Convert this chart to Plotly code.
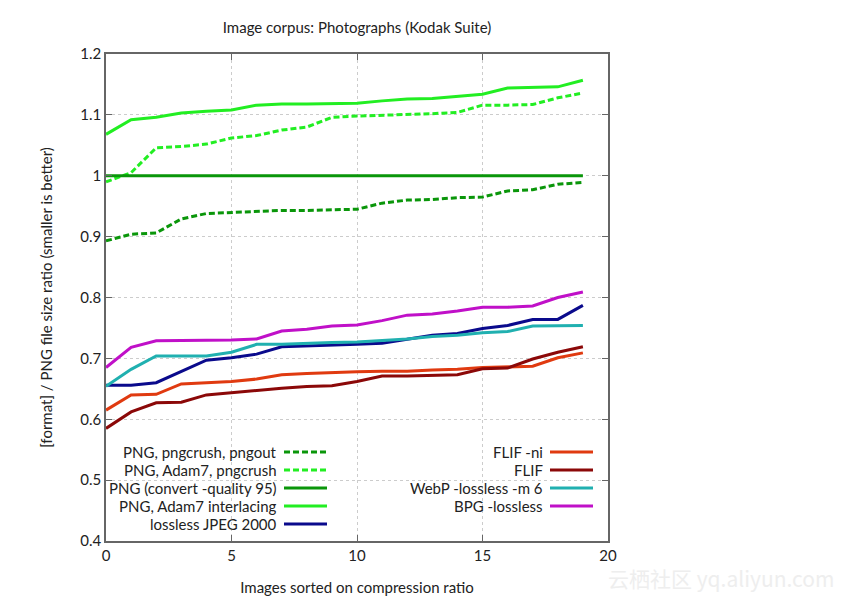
import plotly.graph_objects as go

x = list(range(20))

png_pngcrush_pngout = [0.893, 0.904, 0.906, 0.929, 0.938, 0.940, 0.941, 0.943, 0.943, 0.944, 0.945,
                       0.955, 0.960, 0.961, 0.964, 0.965, 0.975, 0.977, 0.986, 0.989]
png_adam7_pngcrush = [0.990, 1.005, 1.046, 1.048, 1.052, 1.062, 1.066, 1.075, 1.080, 1.096, 1.098,
                      1.099, 1.101, 1.102, 1.104, 1.116, 1.116, 1.117, 1.128, 1.136]
png_convert = [1.0] * 20
png_adam7 = [1.068, 1.092, 1.096, 1.103, 1.106, 1.108, 1.116, 1.118, 1.118, 1.119, 1.119,
             1.123, 1.126, 1.127, 1.130, 1.134, 1.144, 1.145, 1.146, 1.157]
jpeg2000 = [0.656, 0.656, 0.660, 0.678, 0.697, 0.701, 0.707, 0.719, 0.720, 0.722, 0.723,
            0.725, 0.731, 0.738, 0.741, 0.749, 0.754, 0.764, 0.764, 0.787]
flif_ni = [0.615, 0.640, 0.641, 0.658, 0.660, 0.662, 0.666, 0.673, 0.675, 0.677, 0.678,
           0.679, 0.679, 0.681, 0.682, 0.685, 0.686, 0.687, 0.701, 0.709]
flif = [0.585, 0.612, 0.627, 0.628, 0.640, 0.644, 0.648, 0.651, 0.654, 0.655, 0.662,
        0.671, 0.671, 0.672, 0.673, 0.683, 0.684, 0.699, 0.710, 0.719]
webp = [0.654, 0.682, 0.704, 0.704, 0.704, 0.710, 0.723, 0.723, 0.725, 0.726, 0.727,
        0.729, 0.732, 0.736, 0.738, 0.742, 0.744, 0.753, 0.753, 0.754]
bpg = [0.685, 0.718, 0.729, 0.729, 0.730, 0.730, 0.732, 0.745, 0.748, 0.753, 0.755,
       0.762, 0.771, 0.773, 0.778, 0.784, 0.784, 0.786, 0.800, 0.809]

series_names = ["PNG, pngcrush, pngout", "PNG, Adam7, pngcrush", "PNG (convert -quality 95)",
                "PNG, Adam7 interlacing", "lossless JPEG 2000",
                "FLIF -ni", "FLIF", "WebP -lossless -m 6", "BPG -lossless"]
series_values = [png_pngcrush_pngout, png_adam7_pngcrush, png_convert, png_adam7, jpeg2000,
                 flif_ni, flif, webp, bpg]
series_colors = ["#0a960a", "#22ee22", "#0a960a", "#22ee22", "#0a0a8c",
                 "#e03a10", "#8b0808", "#20b0b0", "#c010c8"]
series_dash = ["dash", "dash", "solid", "solid", "solid", "solid", "solid", "solid", "solid"]
legend_column = [0, 0, 0, 0, 0, 1, 1, 1, 1]

x_ticks = [0, 5, 10, 15, 20]
y_ticks = [0.4, 0.5, 0.6, 0.7, 0.8, 0.9, 1.0, 1.1, 1.2]
y_tick_labels = ["0.4", "0.5", "0.6", "0.7", "0.8", "0.9", "1", "1.1", "1.2"]

FONT = "Lato, 'Open Sans', sans-serif"
TXT = "#222222"
DASH = "6px,3px"
fig = go.Figure()

for name, vals, col, dash in zip(series_names, series_values, series_colors, series_dash):
    fig.add_trace(go.Scatter(
        x=x, y=vals, mode="lines", name=name, showlegend=False,
        line=dict(color=col, width=3, dash=DASH if dash == "dash" else "solid"),
    ))

left_px, right_px, top_px, bottom_px = 106, 608, 54, 541
W, H = 845, 599
pw, ph = right_px - left_px, bottom_px - top_px
def px_to_paper_x(px):
    return (px - left_px) / pw
def px_to_paper_y(py):
    return (bottom_px - py) / ph

# gnuplot-style legend: text right-aligned, sample line to its right
col_text_end = [279, 545]
col_sample = [(284, 327), (550, 593)]
row_y0, row_dy = 452, 18
rows = [0, 0]
shapes = []
annotations = []
for name, col, dash, c in zip(series_names, series_colors, series_dash, legend_column):
    r = rows[c]
    rows[c] += 1
    py = row_y0 + r * row_dy
    annotations.append(dict(
        xref="paper", yref="paper", x=px_to_paper_x(col_text_end[c]), y=px_to_paper_y(py),
        text=name, showarrow=False, xanchor="right", yanchor="middle",
        font=dict(family=FONT, size=15, color=TXT),
    ))
    x0, x1 = col_sample[c]
    shapes.append(dict(
        type="line", xref="paper", yref="paper",
        x0=px_to_paper_x(x0), x1=px_to_paper_x(x1), y0=px_to_paper_y(py), y1=px_to_paper_y(py),
        line=dict(color=col, width=3, dash=DASH if dash == "dash" else "solid"),
    ))

# faint watermark
annotations.append(dict(
    xref="paper", yref="paper", x=px_to_paper_x(836), y=px_to_paper_y(578),
    text="云栖社区 yq.aliyun.com", showarrow=False, xanchor="right", yanchor="middle",
    font=dict(family="'Noto Sans CJK SC', sans-serif", size=21, color="#eeeeee"),
))

fig.update_layout(
    width=W, height=H,
    margin=dict(l=left_px, r=W - right_px, t=top_px, b=H - bottom_px, autoexpand=False),
    paper_bgcolor="white", plot_bgcolor="white",
    title=dict(text="Image corpus: Photographs (Kodak Suite)", x=357 / W,
               xanchor="center", y=1 - 28 / H, yanchor="middle",
               font=dict(family=FONT, size=15, color=TXT)),
    shapes=shapes, annotations=annotations,
    font=dict(family=FONT, color=TXT),
)
fig.update_xaxes(
    range=[0, 20], tickvals=x_ticks, ticktext=[str(t) for t in x_ticks],
    ticks="inside", ticklen=6, tickcolor="#666666", mirror="ticks",
    showline=True, linecolor="#666666", linewidth=1.5,
    showgrid=True, gridcolor="#cccccc", griddash="dot", gridwidth=1,
    zeroline=False, tickfont=dict(family=FONT, size=15, color=TXT), automargin=False,
    title=dict(text="Images sorted on compression ratio", font=dict(family=FONT, size=15, color=TXT),
               standoff=20),
)
fig.update_yaxes(
    range=[0.4, 1.2], tickvals=y_ticks, ticktext=y_tick_labels,
    ticks="inside", ticklen=6, tickcolor="#666666", mirror="ticks",
    showline=True, linecolor="#666666", linewidth=1.5,
    showgrid=True, gridcolor="#cccccc", griddash="dot", gridwidth=1,
    zeroline=False, tickfont=dict(family=FONT, size=15, color=TXT), automargin=False,
    title=dict(text="[format] / PNG file size ratio (smaller is better)",
               font=dict(family=FONT, size=15, color=TXT), standoff=24),
)

fig.write_html("out.html", config={"displayModeBar": False},
               post_script="document.body.style.margin='0';document.body.style.overflow='hidden';")
